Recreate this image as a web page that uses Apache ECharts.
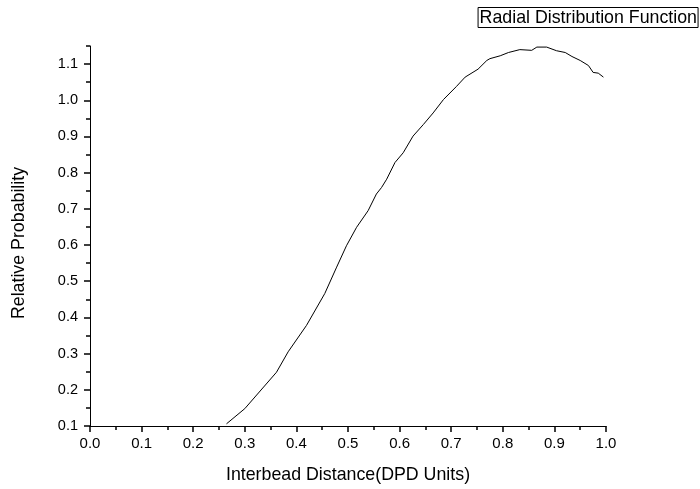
<!DOCTYPE html>
<html>
<head>
<meta charset="utf-8">
<script src="https://cdn.jsdelivr.net/npm/echarts@6/dist/echarts.min.js"></script>
<style>html,body{margin:0;padding:0;background:#fff}#c{width:700px;height:489px}</style>
</head>
<body>
<div id="c"></div>
<script>
// Data
const distance = [0.2645, 0.300, 0.3614, 0.384, 0.4196, 0.455, 0.478, 0.497, 0.5166, 0.539, 0.555, 0.565, 0.575, 0.591, 0.607, 0.626, 0.646, 0.665, 0.685, 0.710, 0.727, 0.752, 0.769, 0.775, 0.795, 0.811, 0.833, 0.856, 0.866, 0.885, 0.904, 0.921, 0.934, 0.950, 0.966, 0.975, 0.985, 0.995];
const probability = [0.106, 0.148, 0.2485, 0.305, 0.378, 0.466, 0.539, 0.598, 0.649, 0.695, 0.741, 0.759, 0.782, 0.828, 0.855, 0.901, 0.933, 0.965, 1.002, 1.038, 1.064, 1.086, 1.110, 1.115, 1.123, 1.132, 1.140, 1.138, 1.147, 1.147, 1.137, 1.132, 1.121, 1.110, 1.096, 1.077, 1.075, 1.064];
const yMajorTicks = [0.1, 0.2, 0.3, 0.4, 0.5, 0.6, 0.7, 0.8, 0.9, 1.0, 1.1];
const yMinorTicks = [0.15, 0.25, 0.35, 0.45, 0.55, 0.65, 0.75, 0.85, 0.95, 1.05, 1.15];
const titleText = 'Radial Distribution Function';
const xName = 'Interbead Distance(DPD Units)';
const yName = 'Relative Probability';

const FONT = 'Liberation Sans, Arial, sans-serif';
const chart = echarts.init(document.getElementById('c'), null, {renderer: 'canvas'});
const axisLine = {show: true, lineStyle: {color: '#000', width: 1}};
chart.setOption({
  animation: false,
  backgroundColor: '#fff',
  title: {
    text: titleText, right: 2, top: 7,
    borderColor: '#000', borderWidth: 1, padding: [2, 1, 1, 2],
    textStyle: {fontFamily: FONT, fontSize: 17.8, fontWeight: 'normal', color: '#000', lineHeight: 18}
  },
  grid: {left: 90, right: 94, top: 46, bottom: 61, containLabel: false},
  xAxis: {
    type: 'value', min: 0, max: 1, interval: 0.1,
    name: xName, nameLocation: 'middle', nameGap: 40,
    nameTextStyle: {fontFamily: FONT, fontSize: 17.8, color: '#000'},
    axisLine: axisLine,
    axisTick: {show: true, inside: false, length: 6, lineStyle: {color: '#000', width: 1.5}},
    minorTick: {show: true, splitNumber: 2, length: 4, lineStyle: {color: '#000', width: 1.5}},
    axisLabel: {fontFamily: FONT, fontSize: 15, color: '#000', margin: 10, formatter: v => v.toFixed(1)},
    splitLine: {show: false}
  },
  yAxis: [{
    type: 'value', min: 0.1, max: 1.15, interval: 0.1,
    name: yName, nameLocation: 'middle', nameGap: 62,
    nameTextStyle: {fontFamily: FONT, fontSize: 17.8, color: '#000', padding: [0, 14, 0, 0]},
    axisLine: axisLine,
    axisTick: {show: true, length: 6, customValues: yMajorTicks, lineStyle: {color: '#000', width: 1.5}},
    axisLabel: {fontFamily: FONT, fontSize: 14.5, color: '#000', margin: 12, customValues: yMajorTicks, formatter: v => v.toFixed(1)},
    splitLine: {show: false}
  }, {
    type: 'value', min: 0.1, max: 1.15, interval: 0.05, position: 'left',
    axisLine: {show: false},
    axisTick: {show: true, length: 4, customValues: yMinorTicks, lineStyle: {color: '#000', width: 1.5}},
    axisLabel: {show: false},
    splitLine: {show: false}
  }],
  series: [{
    type: 'line', yAxisIndex: 0,
    data: distance.map((d, i) => [d, probability[i]]),
    showSymbol: false, symbol: 'none',
    lineStyle: {color: '#000', width: 1},
    silent: true
  }]
});
</script>
</body>
</html>
